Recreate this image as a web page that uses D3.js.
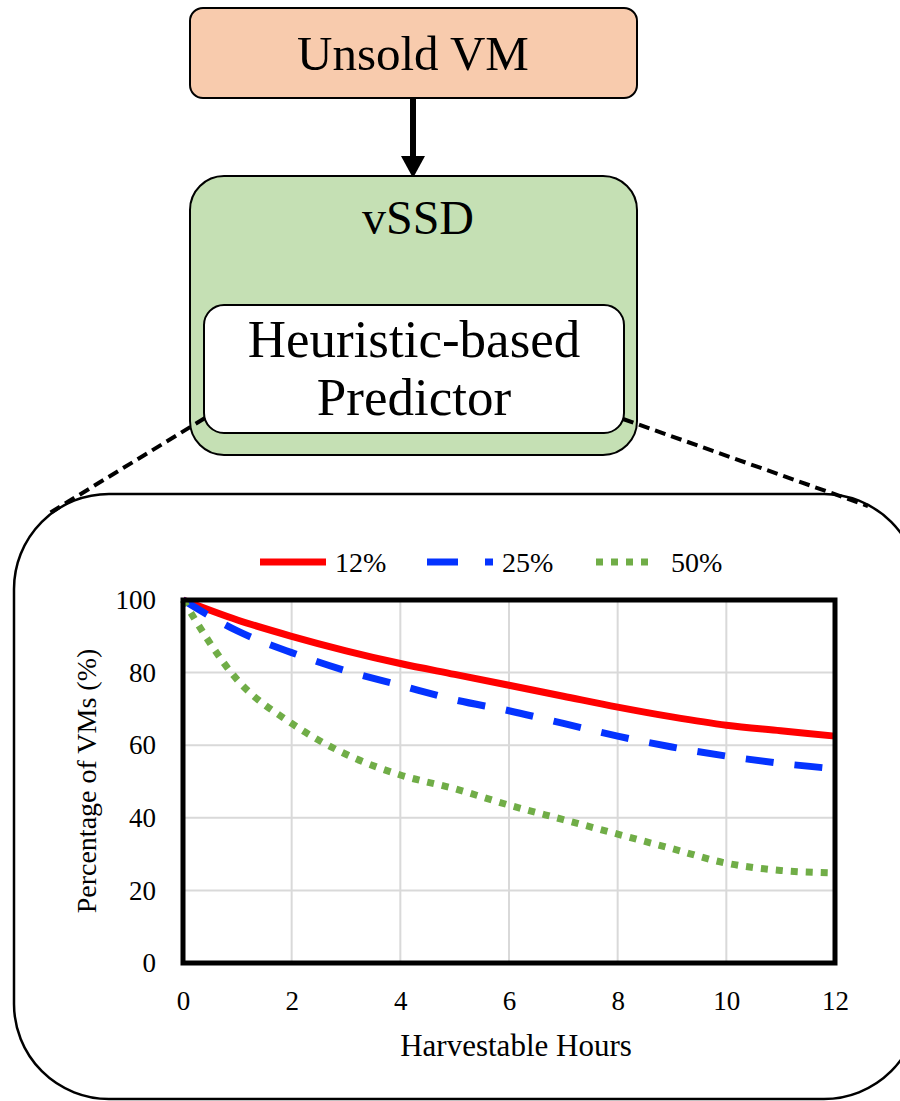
<!DOCTYPE html>
<html>
<head>
<meta charset="utf-8">
<script src="https://cdn.jsdelivr.net/npm/d3@7"></script>
<style>
  body { margin: 0; background: #fff; }
  text { font-family: "Liberation Serif", "Times New Roman", serif; fill: #000; }
</style>
</head>
<body>
<div id="chart"></div>
<script>
// data
const hours = [0, 1, 2, 3, 4, 5, 6, 7, 8, 9, 10, 11, 12];
const pct12 = [100, 94.5, 90, 86, 82.5, 79.5, 76.5, 73.5, 70.5, 67.8, 65.5, 64, 62.5];
const pct25 = [100, 91.5, 85.5, 80.5, 76.5, 72.5, 69.5, 66, 62.5, 59.5, 57, 55, 53.5];
const pct50 = [100, 78, 66, 57.5, 51.8, 48, 43.5, 39.5, 35.5, 31.5, 27.5, 25.5, 24.8];
const seriesNames = ["12%", "25%", "50%"];
const xTicks = [0, 2, 4, 6, 8, 10, 12];
const yTicks = [0, 20, 40, 60, 80, 100];

const W = 900, H = 1101;
const svg = d3.select("#chart").append("svg")
  .attr("width", W)
  .attr("height", H);

// ---- diagram part ----
// big rounded panel that holds the chart (runs off the right/bottom edge)
svg.append("rect")
  .attr("x", 14).attr("y", 494)
  .attr("width", 905).attr("height", 605)
  .attr("rx", 95).attr("ry", 95)
  .attr("fill", "#fff").attr("stroke", "#000").attr("stroke-width", 2.5);

// Unsold VM box
svg.append("rect")
  .attr("x", 190).attr("y", 8).attr("width", 447).attr("height", 90)
  .attr("rx", 13).attr("fill", "#f8cbad").attr("stroke", "#000").attr("stroke-width", 2);
svg.append("text")
  .attr("x", 413).attr("y", 70)
  .attr("text-anchor", "middle")
  .style("font-size", "49px")
  .text("Unsold VM");

// arrow
svg.append("line")
  .attr("x1", 413).attr("y1", 98).attr("x2", 413).attr("y2", 160)
  .attr("stroke", "#000").attr("stroke-width", 6);
svg.append("path")
  .attr("d", "M401,156 L425,156 L413,178 Z")
  .attr("fill", "#000");

// vSSD box
svg.append("rect")
  .attr("x", 190).attr("y", 176).attr("width", 447).attr("height", 279)
  .attr("rx", 34).attr("fill", "#c5e0b4").attr("stroke", "#000").attr("stroke-width", 2);
svg.append("text")
  .attr("x", 418).attr("y", 234)
  .attr("text-anchor", "middle")
  .style("font-size", "48px")
  .text("vSSD");

// predictor box
svg.append("rect")
  .attr("x", 204).attr("y", 305).attr("width", 420).attr("height", 128)
  .attr("rx", 20).attr("fill", "#fff").attr("stroke", "#000").attr("stroke-width", 2);
svg.append("text")
  .attr("x", 414).attr("y", 357)
  .attr("text-anchor", "middle")
  .style("font-size", "53px")
  .text("Heuristic-based");
svg.append("text")
  .attr("x", 414).attr("y", 415)
  .attr("text-anchor", "middle")
  .style("font-size", "53px")
  .text("Predictor");

// zoom lines (on top of the boxes, like the original)
svg.append("line")
  .attr("x1", 205).attr("y1", 418).attr("x2", 48).attr("y2", 514)
  .attr("stroke", "#000").attr("stroke-width", 4).attr("stroke-dasharray", "11,6");
svg.append("line")
  .attr("x1", 623).attr("y1", 419).attr("x2", 868).attr("y2", 506)
  .attr("stroke", "#000").attr("stroke-width", 4).attr("stroke-dasharray", "11,6");

// ---- chart part ----
const x = d3.scaleLinear().domain([0, 12]).range([183, 835]);
const y = d3.scaleLinear().domain([0, 100]).range([963, 600]);

const plot = svg.append("g");

// gridlines
plot.append("g")
  .selectAll("line.vg")
  .data(xTicks.slice(1, -1))
  .join("line")
  .attr("x1", d => x(d)).attr("x2", d => x(d))
  .attr("y1", y(0)).attr("y2", y(100))
  .attr("stroke", "#d9d9d9").attr("stroke-width", 2);
plot.append("g")
  .selectAll("line.hg")
  .data(yTicks.slice(1, -1))
  .join("line")
  .attr("x1", x(0)).attr("x2", x(12))
  .attr("y1", d => y(d)).attr("y2", d => y(d))
  .attr("stroke", "#d9d9d9").attr("stroke-width", 2);

// axes (labels only, frame drawn separately)
const xAxis = plot.append("g")
  .attr("transform", "translate(0," + y(0) + ")")
  .call(d3.axisBottom(x).tickValues(xTicks).tickSize(0).tickPadding(28));
xAxis.select(".domain").remove();
xAxis.selectAll("text")
  .style("font-size", "27px")
  .style("font-family", "'Liberation Serif', serif");

const yAxis = plot.append("g")
  .attr("transform", "translate(" + x(0) + ",0)")
  .call(d3.axisLeft(y).tickValues(yTicks).tickSize(0).tickPadding(27));
yAxis.select(".domain").remove();
yAxis.selectAll("text")
  .style("font-size", "27px")
  .style("font-family", "'Liberation Serif', serif");

// series
const series = [
  { name: seriesNames[0], values: pct12, color: "#ff0000", dash: null },
  { name: seriesNames[1], values: pct25, color: "#0433ff", dash: "28,21" },
  { name: seriesNames[2], values: pct50, color: "#70ad47", dash: "7,8" }
];

const line = d3.line()
  .x((d, i) => x(hours[i]))
  .y(d => y(d))
  .curve(d3.curveMonotoneX);

plot.append("g")
  .selectAll("path")
  .data(series)
  .join("path")
  .attr("d", d => line(d.values))
  .attr("fill", "none")
  .attr("stroke", d => d.color)
  .attr("stroke-width", 7)
  .attr("stroke-dasharray", d => d.dash);

// plot frame
plot.append("rect")
  .attr("x", x(0)).attr("y", y(100))
  .attr("width", x(12) - x(0)).attr("height", y(0) - y(100))
  .attr("fill", "none").attr("stroke", "#000").attr("stroke-width", 5);

// axis titles
svg.append("text")
  .attr("x", 516).attr("y", 1056)
  .attr("text-anchor", "middle")
  .style("font-size", "31px")
  .text("Harvestable Hours");
svg.append("text")
  .attr("transform", "translate(96,781) rotate(-90)")
  .attr("text-anchor", "middle")
  .style("font-size", "28px")
  .text("Percentage of VMs (%)");

// legend
const legendX = [260, 427, 596];
const legend = svg.append("g").selectAll("g")
  .data(series)
  .join("g")
  .attr("transform", (d, i) => "translate(" + legendX[i] + ",562)");
legend.append("line")
  .attr("x1", 0).attr("x2", (d, i) => i === 2 ? 60 : 66)
  .attr("y1", 0).attr("y2", 0)
  .attr("stroke", d => d.color)
  .attr("stroke-width", 7)
  .attr("stroke-dasharray", (d, i) => i === 1 ? "31,27" : (i === 2 ? "7,8" : null));
legend.append("text")
  .attr("x", 75).attr("y", 10)
  .style("font-size", "28px")
  .text(d => d.name);
</script>
</body>
</html>
